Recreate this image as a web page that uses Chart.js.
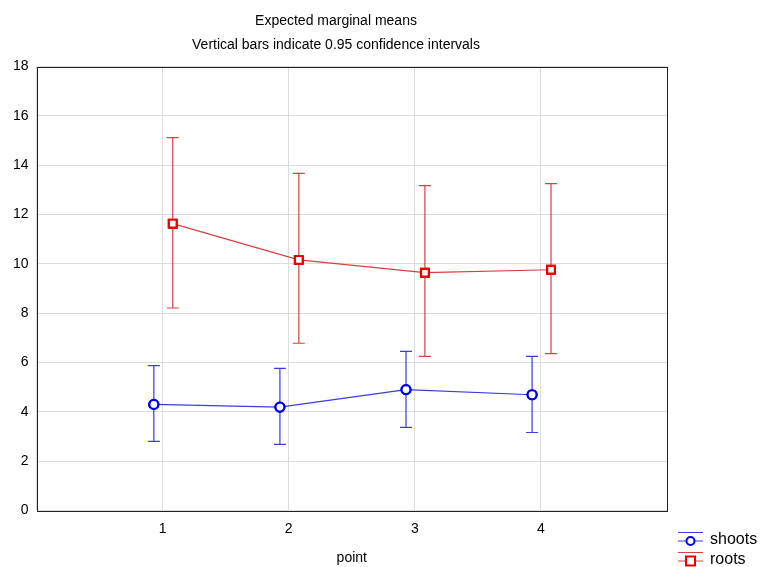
<!DOCTYPE html>
<html>
<head>
<meta charset="utf-8">
<script src="https://cdn.jsdelivr.net/npm/chart.js@4"></script>
<style>
html,body{margin:0;padding:0;background:#fff;}
#wrap{width:760px;height:567px;}
</style>
</head>
<body>
<div id="wrap"><canvas id="c" width="760" height="567"></canvas></div>
<script>
const points = [1, 2, 3, 4];
const shootsMean = [4.30, 4.19, 4.90, 4.69];
const shootsLow  = [2.80, 2.68, 3.37, 3.16];
const shootsHigh = [5.87, 5.76, 6.45, 6.25];
const rootsMean  = [11.63, 10.16, 9.64, 9.76];
const rootsLow   = [8.21, 6.78, 6.25, 6.36];
const rootsHigh  = [15.12, 13.67, 13.17, 13.25];
const seriesNames = ['shoots', 'roots'];
const titleLines = ['Expected marginal means', 'Vertical bars indicate 0.95 confidence intervals'];

const FONT = "'Liberation Sans', Arial, sans-serif";
const shootsOffset = -0.07, rootsOffset = 0.08;

const BLUE = '#0000ee', BLUE_L = '#3c3cd8';
const RED = '#ee0000', RED_L = '#d84040';

const errorBars = {
  id: 'errorBars',
  afterDatasetsDraw(chart) {
    const ctx = chart.ctx, xs = chart.scales.x, ys = chart.scales.y;
    const sets = [
      {lo: shootsLow, hi: shootsHigh, off: shootsOffset, col: BLUE_L},
      {lo: rootsLow, hi: rootsHigh, off: rootsOffset, col: RED_L}
    ];
    ctx.save();
    ctx.lineWidth = 1.2;
    sets.forEach(s => {
      ctx.strokeStyle = s.col;
      points.forEach((p, i) => {
        const x = xs.getPixelForValue(p + s.off);
        const y1 = ys.getPixelForValue(s.lo[i]);
        const y2 = ys.getPixelForValue(s.hi[i]);
        ctx.beginPath();
        ctx.moveTo(x, y1); ctx.lineTo(x, y2);
        ctx.moveTo(x - 6, y1); ctx.lineTo(x + 6, y1);
        ctx.moveTo(x - 6, y2); ctx.lineTo(x + 6, y2);
        ctx.stroke();
      });
    });
    ctx.restore();
    chart.data.datasets.forEach((d, i) => {
      const meta = chart.getDatasetMeta(i);
      meta.data.forEach(el => el.draw(ctx, chart.chartArea));
    });
  }
};

const frameAndLegend = {
  id: 'frameAndLegend',
  afterDraw(chart) {
    const ctx = chart.ctx, a = chart.chartArea;
    ctx.save();
    ctx.strokeStyle = '#222';
    ctx.lineWidth = 1;
    ctx.strokeRect(Math.round(a.left) + 0.5, Math.round(a.top) + 0.5, Math.round(a.right - a.left), Math.round(a.bottom - a.top));
    const entries = [
      {name: seriesNames[0], col: BLUE, lcol: BLUE_L, shape: 'circle', cy: 541},
      {name: seriesNames[1], col: RED, lcol: RED_L, shape: 'rect', cy: 561}
    ];
    entries.forEach(e => {
      const x0 = 678, x1 = 703, cx = 690.5;
      ctx.strokeStyle = e.lcol;
      ctx.lineWidth = 1.2;
      ctx.beginPath();
      ctx.moveTo(x0, e.cy - 8.5); ctx.lineTo(x1, e.cy - 8.5);
      ctx.moveTo(x0, e.cy); ctx.lineTo(x1, e.cy);
      ctx.stroke();
      ctx.strokeStyle = e.col;
      ctx.fillStyle = '#fff';
      ctx.lineWidth = 2;
      ctx.beginPath();
      if (e.shape === 'circle') {
        ctx.arc(cx, e.cy, 4, 0, Math.PI * 2);
      } else {
        ctx.rect(cx - 4.5, e.cy - 4.5, 9, 9);
      }
      ctx.fill(); ctx.stroke();
      ctx.fillStyle = '#000';
      ctx.font = '16px ' + FONT;
      ctx.textBaseline = 'middle';
      ctx.textAlign = 'left';
      ctx.fillText(e.name, 710, e.cy - 1);
    });
    ctx.restore();
  }
};

new Chart(document.getElementById('c'), {
  type: 'line',
  data: {
    datasets: [
      {
        label: seriesNames[0],
        data: points.map((p, i) => ({x: p + shootsOffset, y: shootsMean[i]})),
        borderColor: BLUE_L, borderWidth: 1.2,
        pointStyle: 'circle', pointRadius: 4.5, pointBorderWidth: 2.2,
        pointBorderColor: BLUE, pointBackgroundColor: '#fff',
        tension: 0
      },
      {
        label: seriesNames[1],
        data: points.map((p, i) => ({x: p + rootsOffset, y: rootsMean[i]})),
        borderColor: RED_L, borderWidth: 1.2,
        pointStyle: 'rect', pointRadius: 5.5, pointBorderWidth: 2.2,
        pointBorderColor: RED, pointBackgroundColor: '#fff',
        tension: 0
      }
    ]
  },
  options: {
    responsive: false,
    animation: false,
    devicePixelRatio: 1,
    layout: {padding: {left: 5, right: 93, top: 9, bottom: 0}},
    plugins: {
      legend: {display: false},
      tooltip: {enabled: false},
      title: {
        display: true,
        text: titleLines,
        color: '#000',
        font: {family: FONT, size: 14, weight: 'normal', lineHeight: 1.7},
        padding: {top: 0, bottom: 10}
      }
    },
    scales: {
      x: {
        type: 'linear', min: 0, max: 5,
        border: {display: false},
        grid: {color: '#dcdcdc', lineWidth: 1, drawTicks: false},
        ticks: {
          stepSize: 1, padding: 10, color: '#000',
          font: {family: FONT, size: 14},
          callback: v => (points.includes(v) ? String(v) : '')
        },
        title: {display: true, text: 'point', color: '#000', font: {family: FONT, size: 14}, padding: {top: 3, bottom: 0}}
      },
      y: {
        min: 0, max: 18,
        border: {display: false},
        grid: {color: '#dcdcdc', lineWidth: 1, drawTicks: false},
        ticks: {stepSize: 2, padding: 8, color: '#000', font: {family: FONT, size: 14}}
      }
    }
  },
  plugins: [errorBars, frameAndLegend]
});
</script>
</body>
</html>
